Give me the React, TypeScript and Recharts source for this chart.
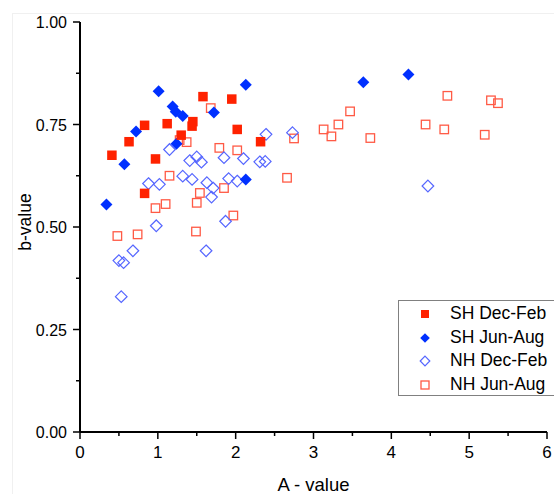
import React from 'react';
import { ScatterChart, Scatter, XAxis, YAxis, Legend } from 'recharts';

// SH Dec-Feb (filled red squares)
const shDecFebA = [0.41, 0.63, 0.83, 0.83, 0.97, 1.12, 1.3, 1.44, 1.45, 1.58, 1.95, 2.02, 2.32];
const shDecFebB = [0.675, 0.708, 0.748, 0.582, 0.666, 0.752, 0.724, 0.746, 0.757, 0.818, 0.812, 0.738, 0.708];

// SH Jun-Aug (filled blue diamonds)
const shJunAugA = [0.34, 0.57, 0.72, 1.01, 1.19, 1.23, 1.24, 1.32, 1.72, 2.13, 2.13, 3.64, 4.22];
const shJunAugB = [0.555, 0.653, 0.733, 0.831, 0.794, 0.781, 0.703, 0.771, 0.779, 0.847, 0.616, 0.853, 0.872];

// NH Dec-Feb (open blue diamonds)
const nhDecFebA = [0.53, 0.5, 0.56, 0.68, 0.88, 0.98, 1.02, 1.15, 1.32, 1.41, 1.44, 1.5, 1.56, 1.62, 1.63, 1.69, 1.71, 1.85, 1.87, 1.91, 2.02, 2.1, 2.31, 2.38, 2.39, 2.73, 4.47];
const nhDecFebB = [0.33, 0.418, 0.413, 0.442, 0.606, 0.503, 0.604, 0.689, 0.624, 0.662, 0.616, 0.671, 0.658, 0.442, 0.608, 0.573, 0.595, 0.669, 0.514, 0.618, 0.612, 0.667, 0.659, 0.66, 0.726, 0.73, 0.6];

// NH Jun-Aug (open red squares)
const nhJunAugA = [0.48, 0.74, 0.97, 1.1, 1.15, 1.28, 1.37, 1.49, 1.5, 1.54, 1.68, 1.79, 1.85, 1.97, 2.02, 2.66, 2.75, 3.13, 3.23, 3.32, 3.47, 3.73, 4.44, 4.68, 4.72, 5.2, 5.28, 5.37];
const nhJunAugB = [0.478, 0.482, 0.546, 0.556, 0.625, 0.712, 0.707, 0.489, 0.559, 0.583, 0.79, 0.693, 0.595, 0.528, 0.687, 0.62, 0.716, 0.738, 0.721, 0.75, 0.782, 0.717, 0.75, 0.738, 0.82, 0.725, 0.809, 0.802];

const xTicks = [0, 0.5, 1, 1.5, 2, 2.5, 3, 3.5, 4, 4.5, 5, 5.5, 6];
const yTicks = [0, 0.125, 0.25, 0.375, 0.5, 0.625, 0.75, 0.875, 1];

const seriesNames = ['SH Dec-Feb', 'SH Jun-Aug', 'NH Dec-Feb', 'NH Jun-Aug'];

const toPoints = (a: number[], b: number[]) => a.map((v, i) => ({ a: v, b: b[i] }));

const RED = '#ff2200';
const BLUE = '#0030ff';
const OPEN_RED = '#ff5a45';
const OPEN_BLUE = '#5566ff';
const FONT = '"Liberation Sans", Arial, sans-serif';

const square = (cx: number, cy: number, s: number, filled: boolean) =>
  filled ? (
    <rect x={cx - s / 2} y={cy - s / 2} width={s} height={s} fill={RED} />
  ) : (
    <rect x={cx - s / 2} y={cy - s / 2} width={s} height={s} fill="none" stroke={OPEN_RED} strokeWidth={1.3} />
  );

const diamond = (cx: number, cy: number, r: number, filled: boolean) => {
  const pts = `${cx},${cy - r} ${cx + r},${cy} ${cx},${cy + r} ${cx - r},${cy}`;
  return filled ? (
    <polygon points={pts} fill={BLUE} />
  ) : (
    <polygon points={pts} fill="none" stroke={OPEN_BLUE} strokeWidth={1.2} />
  );
};

const FilledSquare = (p: any) => square(p.cx, p.cy, 9.5, true);
const OpenSquare = (p: any) => square(p.cx, p.cy, 8.5, false);
const FilledDiamond = (p: any) => diamond(p.cx, p.cy, 6, true);
const OpenDiamond = (p: any) => diamond(p.cx, p.cy, 5.8, false);

const XTick = (props: any) => {
  const { x, y, payload } = props;
  const v = payload.value;
  const major = Number.isInteger(v);
  return (
    <g>
      <line x1={x} x2={x} y1={y} y2={y + (major ? 7 : 4)} stroke="#000" strokeWidth={1.5} />
      {major && (
        <text x={x} y={y + 26} textAnchor="middle" fontSize={17} fontFamily={FONT} fill="#000">
          {v}
        </text>
      )}
    </g>
  );
};

const YTick = (props: any) => {
  const { x, y, payload } = props;
  const v = payload.value;
  const major = Math.abs(v * 4 - Math.round(v * 4)) < 1e-6;
  return (
    <g>
      <line x1={x} x2={x - (major ? 7 : 4)} y1={y} y2={y} stroke="#000" strokeWidth={1.5} />
      {major && (
        <text x={x - 13} y={y + 6} textAnchor="end" fontSize={16} fontFamily={FONT} fill="#000">
          {v.toFixed(2)}
        </text>
      )}
    </g>
  );
};

const YTitle = () => (
  <text
    x={31}
    y={222}
    transform="rotate(-90 31 222)"
    textAnchor="middle"
    fontSize={17.5}
    fontFamily={FONT}
    fill="#000"
  >
    b-value
  </text>
);

const legendMarkers = [
  (cx: number, cy: number) => square(cx, cy, 8, true),
  (cx: number, cy: number) => diamond(cx, cy, 4.8, true),
  (cx: number, cy: number) => diamond(cx, cy, 4.8, false),
  (cx: number, cy: number) => square(cx, cy, 8, false),
];

const renderLegend = () => (
  <div
    style={{
      width: 160,
      height: 96,
      border: '1px solid #808080',
      boxSizing: 'border-box',
      background: '#fff',
      fontFamily: FONT,
      fontSize: 17.5,
      color: '#000',
    }}
  >
    {seriesNames.map((name, i) => (
      <div key={name} style={{ position: 'relative', height: 23.6, lineHeight: '23.6px', marginTop: i === 0 ? 1 : 0 }}>
        <svg width={20} height={20} style={{ position: 'absolute', left: 16, top: 2 }}>
          {legendMarkers[i](10, 10)}
        </svg>
        <span style={{ position: 'absolute', left: 51, top: 0, whiteSpace: 'nowrap' }}>{name}</span>
      </div>
    ))}
  </div>
);

export default function App() {
  return (
    <div style={{ position: 'absolute', left: 0, top: 0, width: 554, height: 494, background: '#fff' }}>
      <div
        style={{
          position: 'absolute',
          left: 12,
          top: 13,
          width: 560,
          height: 480,
          border: '1px solid #f0f0f0',
        }}
      />
      <ScatterChart width={554} height={494} margin={{ top: 22, right: 7, bottom: 0, left: 0 }}>
        <XAxis
          type="number"
          dataKey="a"
          domain={[0, 6]}
          ticks={xTicks}
          interval={0}
          tickLine={false}
          tickSize={0}
          tickMargin={0}
          tick={<XTick />}
          height={62}
          axisLine={{ stroke: '#000', strokeWidth: 2 }}
          label={{
            value: 'A - value',
            position: 'insideBottom',
            offset: 3,
            fontSize: 18.5,
            fontFamily: FONT,
            fill: '#000',
          }}
        />
        <YAxis
          type="number"
          dataKey="b"
          domain={[0, 1]}
          ticks={yTicks}
          interval={0}
          tickLine={false}
          tickSize={0}
          tickMargin={0}
          tick={<YTick />}
          width={80}
          axisLine={{ stroke: '#000', strokeWidth: 2 }}
          label={<YTitle />}
        />
        <Legend
          layout="vertical"
          align="center"
          verticalAlign="middle"
          content={renderLegend}
          wrapperStyle={{ left: 398, top: 300, width: 160, height: 96 }}
        />
        <Scatter name={seriesNames[3]} data={toPoints(nhJunAugA, nhJunAugB)} shape={OpenSquare} isAnimationActive={false} />
        <Scatter name={seriesNames[2]} data={toPoints(nhDecFebA, nhDecFebB)} shape={OpenDiamond} isAnimationActive={false} />
        <Scatter name={seriesNames[1]} data={toPoints(shJunAugA, shJunAugB)} shape={FilledDiamond} isAnimationActive={false} />
        <Scatter name={seriesNames[0]} data={toPoints(shDecFebA, shDecFebB)} shape={FilledSquare} isAnimationActive={false} />
      </ScatterChart>
    </div>
  );
}
